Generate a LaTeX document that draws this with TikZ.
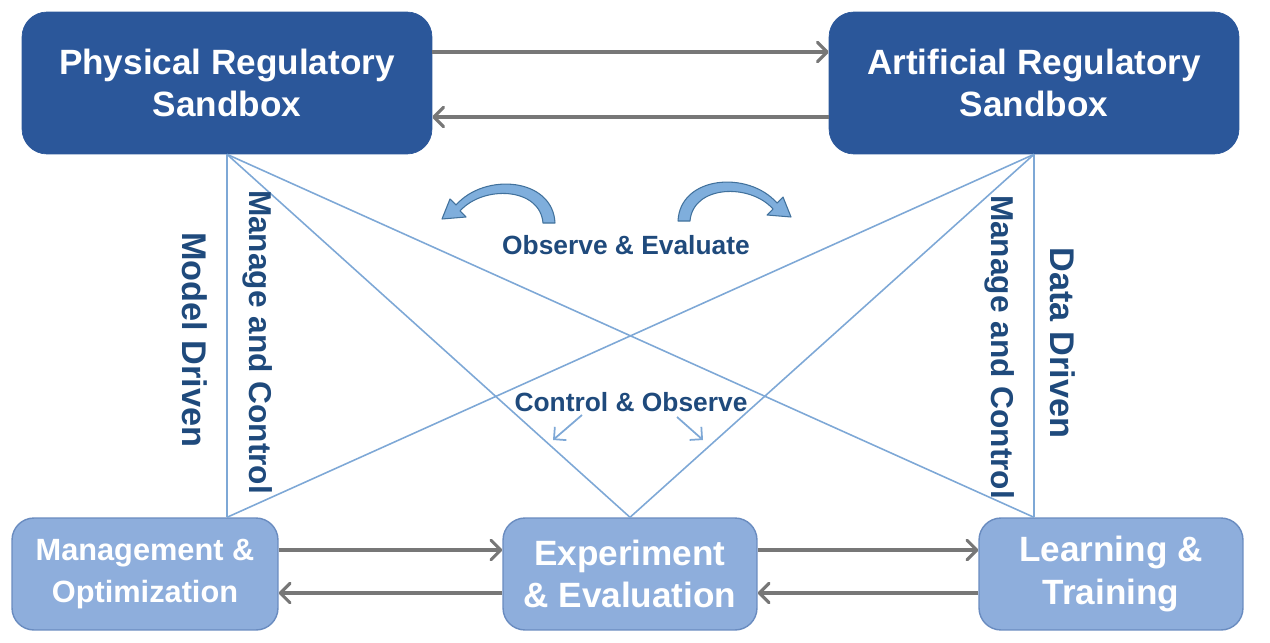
\documentclass[tikz,border=0pt]{standalone}
\usepackage{fontspec}
\setmainfont{Liberation Sans}
\usetikzlibrary{arrows.meta}

\definecolor{boxdark}{HTML}{2B579A}
\definecolor{boxlight}{HTML}{8EAEDC}
\definecolor{boxedge}{HTML}{6A8CC0}
\definecolor{crossblue}{HTML}{7EA8D6}
\definecolor{labelblue}{HTML}{1F4A7C}
\definecolor{arrowgray}{HTML}{777777}
\definecolor{bendfill}{HTML}{7FAEDC}
\definecolor{bendedge}{HTML}{41719C}

\tikzset{
  topbox/.style={fill=boxdark, draw=boxdark, rounded corners=0.5cm, inner sep=0pt,
    minimum width=8.2cm, minimum height=2.84cm, text=white, align=center,
    font=\bfseries\fontsize{20}{24}\selectfont},
  lowbox/.style={fill=boxlight, draw=boxedge, line width=0.8pt, rounded corners=0.44cm,
    inner sep=0pt, minimum height=2.24cm, text=white, align=center,
    font=\bfseries\fontsize{20}{24}\selectfont},
  crossline/.style={draw=crossblue, line width=0.9pt},
  grayarrow/.style={draw=arrowgray, line width=1.8pt,
    -{Straight Barb[length=5.5pt,width=11pt,round]}},
  thinarrow/.style={draw=crossblue, line width=1pt,
    -{Straight Barb[length=5pt,width=10pt]}},
  midlabel/.style={text=labelblue, font=\bfseries\fontsize{15}{18}\selectfont},
  sidelabel/.style={text=labelblue, rotate=-90, inner sep=0pt},
  bendarrow/.style={fill=bendfill, draw=bendedge, line width=0.6pt, line join=round}
}

\begin{document}
\begin{tikzpicture}[x=0.02cm, y=-0.02cm]
  \useasboundingbox (0,0) rectangle (1270,642);

  % sandboxes
  \node [topbox] (phys) at (227,83) {Physical Regulatory\\Sandbox};
  \node [topbox] (art) at (1034,83) {Artificial Regulatory\\Sandbox};

  % lower blocks
  \node [lowbox, minimum width=5.32cm, font=\bfseries\fontsize{17.5}{24}\selectfont]
    (mgmt) at (145,574) {Management \&\\Optimization};
  \node [lowbox, minimum width=5.08cm] (exper) at (630,574) {Experiment\\\& Evaluation};
  \node [lowbox, minimum width=5.28cm] (learn) at (1111,574) {Learning \&\\Training};

  \coordinate (mgmttop) at (phys.south |- mgmt.north);
  \coordinate (learntop) at (art.south |- learn.north);

  % crossing lines
  \draw [crossline] (phys.south) -- (mgmttop);
  \draw [crossline] (phys.south) -- (exper.north);
  \draw [crossline] (phys.south) -- (learntop);
  \draw [crossline] (art.south) -- (learntop);
  \draw [crossline] (art.south) -- (exper.north);
  \draw [crossline] (art.south) -- (mgmttop);

  % gray arrows
  \draw [grayarrow] ([yshift=0.62cm]phys.east) -- ([yshift=0.62cm]art.west);
  \draw [grayarrow] ([yshift=-0.68cm]art.west) -- ([yshift=-0.68cm]phys.east);
  \draw [grayarrow] ([yshift=0.48cm]mgmt.east) -- ([yshift=0.48cm]exper.west);
  \draw [grayarrow] ([yshift=-0.38cm]exper.west) -- ([yshift=-0.38cm]mgmt.east);
  \draw [grayarrow] ([yshift=0.48cm]exper.east) -- ([yshift=0.48cm]learn.west);
  \draw [grayarrow] ([yshift=-0.38cm]learn.west) -- ([yshift=-0.38cm]exper.east);

  % labels
  \node [midlabel] (obs) at (626,245) {Observe \& Evaluate};
  \node [midlabel] (ctrl) at (631,402) {Control \& Observe};
  \node [sidelabel, font=\bfseries\fontsize{19.5}{22}\selectfont] (model) at (195,340) {Model Driven};
  \node [sidelabel, font=\bfseries\fontsize{18}{22}\selectfont] (manl) at (258,342) {Manage and Control};
  \node [sidelabel, font=\bfseries\fontsize{18}{22}\selectfont] (manr) at (1000,347) {Manage and Control};
  \node [sidelabel, font=\bfseries\fontsize{19.5}{22}\selectfont] (data) at (1063,343) {Data Driven};

  % curved arrows
  \filldraw [bendarrow] (555,223) .. controls (553,178) and (485,172) .. (456,205)
    -- (450,199) -- (442,219) -- (466,217) -- (460,211)
    .. controls (483,185) and (540,187) .. (543,223) -- cycle;
  \filldraw [bendarrow] (678,221) .. controls (680,176) and (748,170) .. (777,203)
    -- (783,197) -- (791,217) -- (767,215) -- (773,209)
    .. controls (750,183) and (693,185) .. (690,221) -- cycle;

  % small arrows
  \coordinate (cl) at (582,415);
  \coordinate (cr) at (677,417);
  \draw [thinarrow] (cl) -- ++(-29,25);
  \draw [thinarrow] (cr) -- ++(26,23);
\end{tikzpicture}
\end{document}
